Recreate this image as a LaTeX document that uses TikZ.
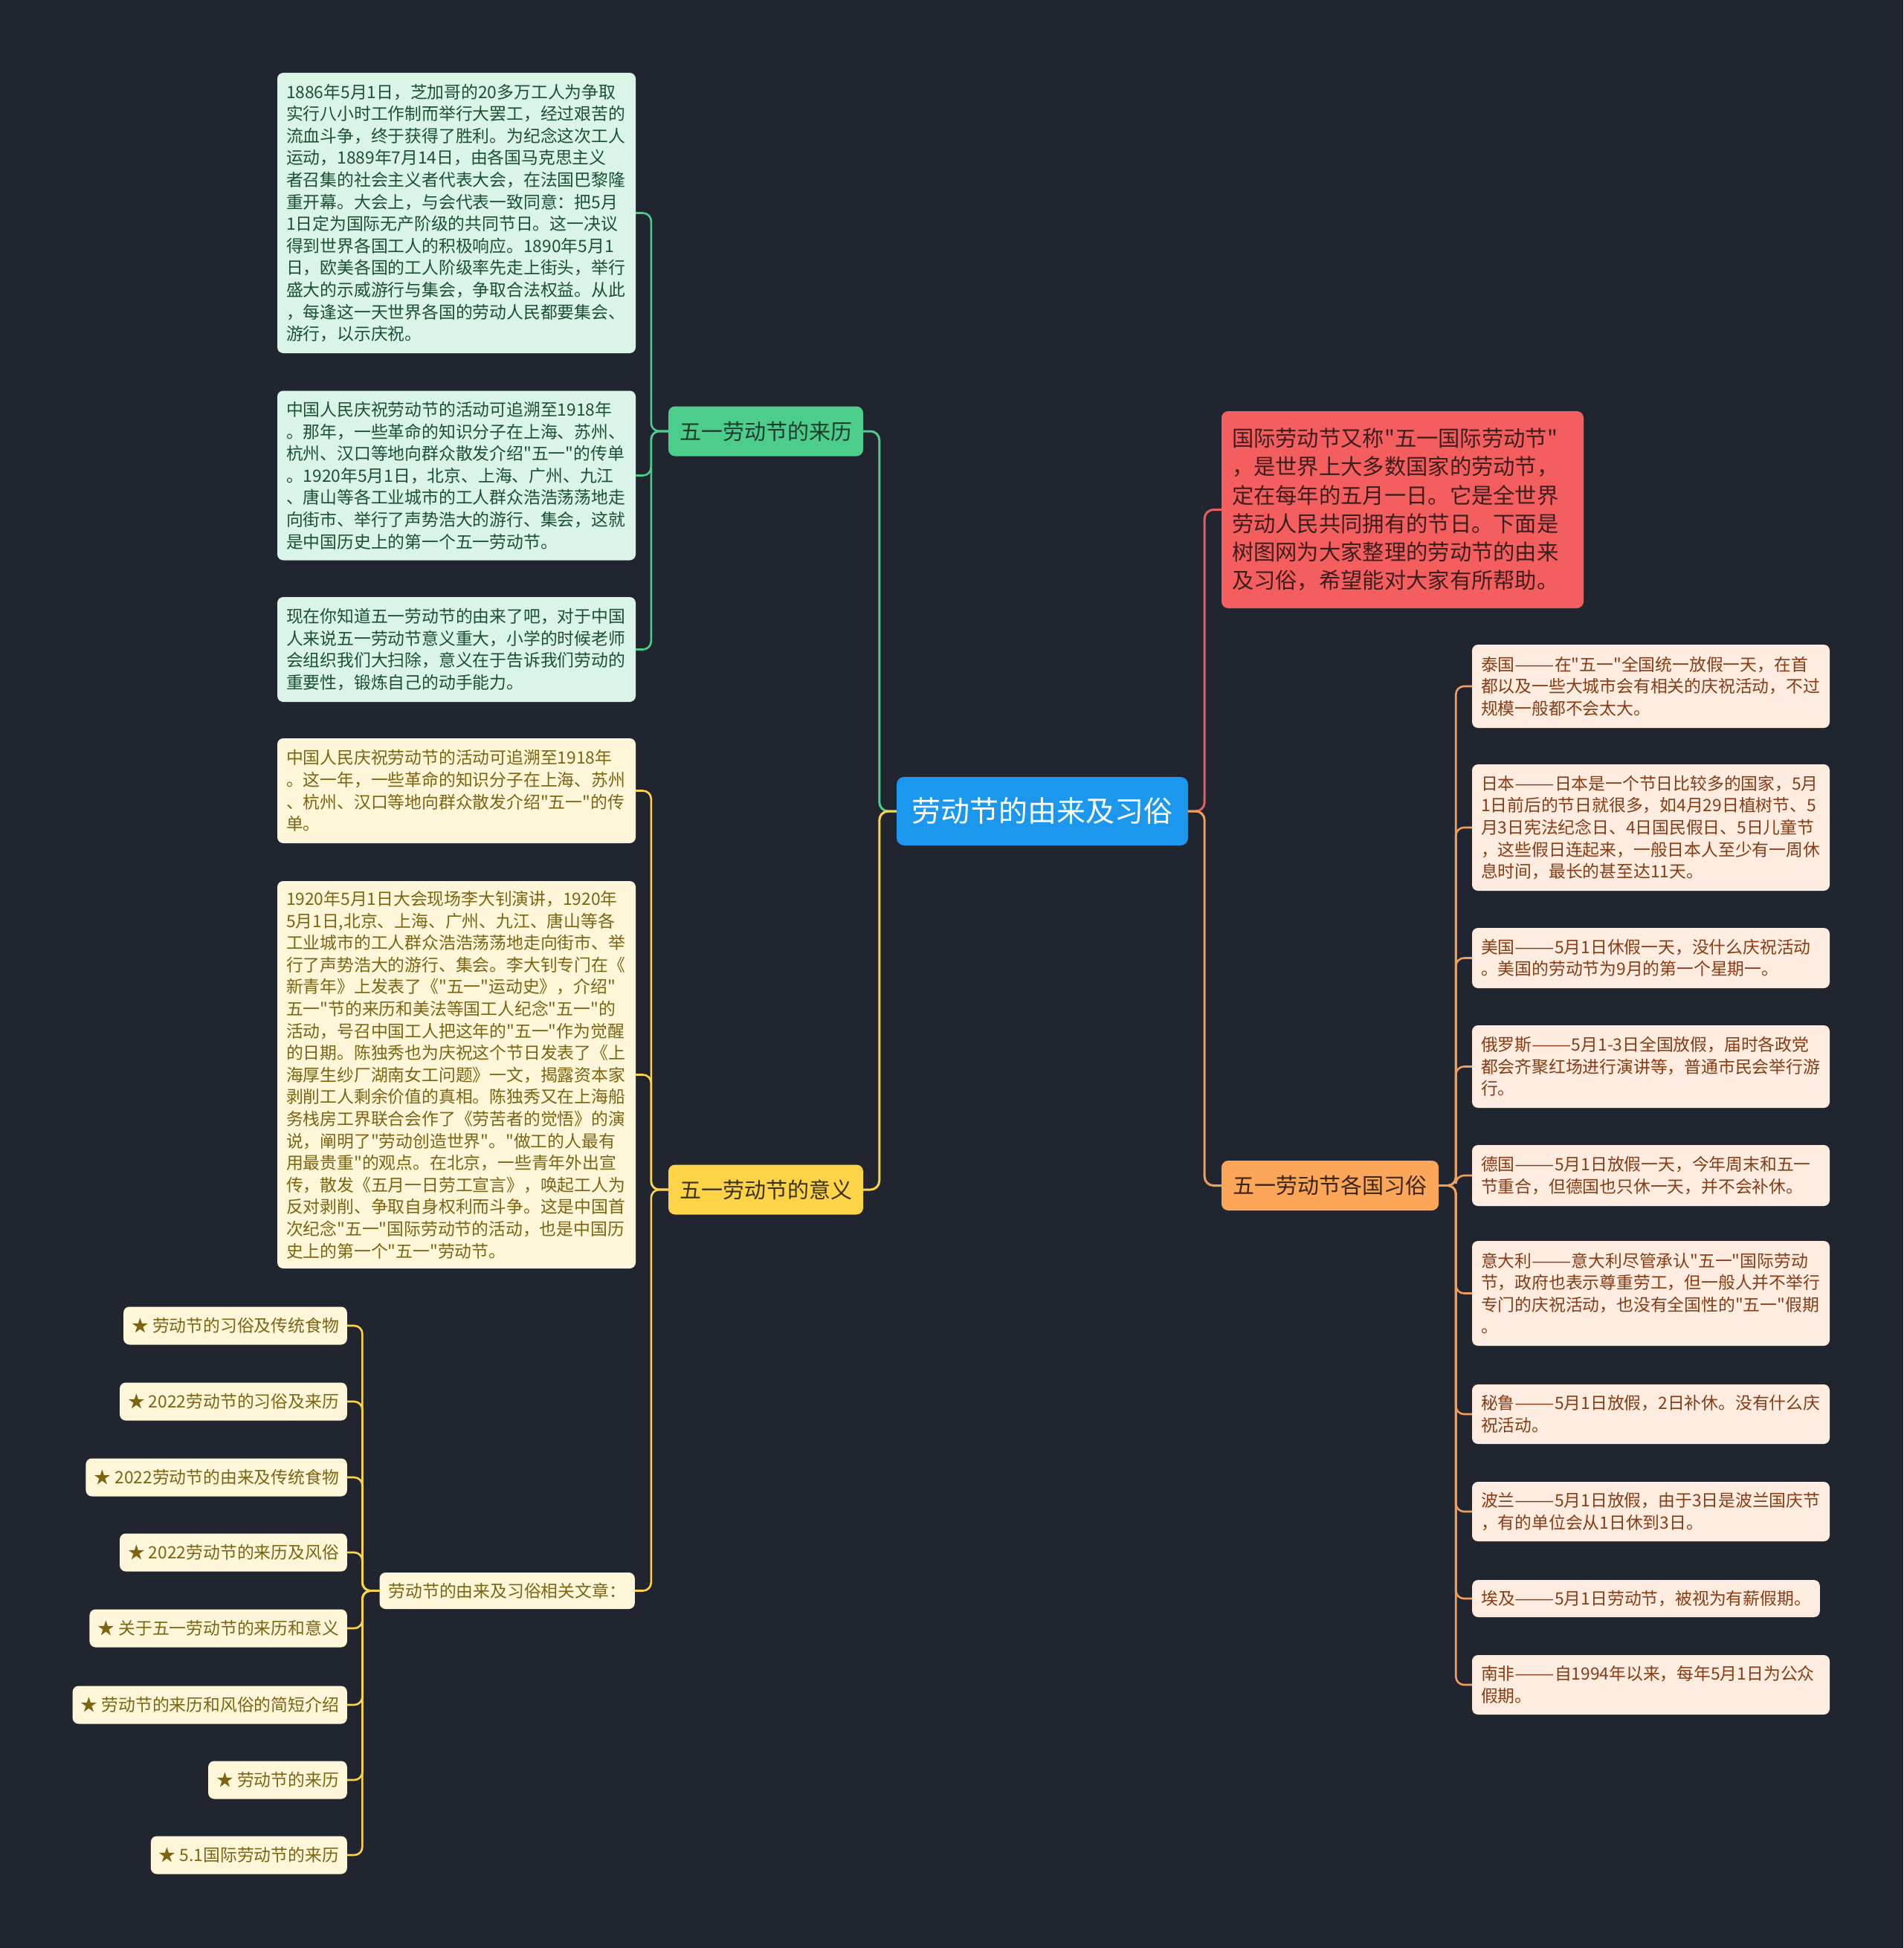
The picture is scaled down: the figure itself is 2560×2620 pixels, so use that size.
\documentclass[tikz,border=0pt]{standalone}
\usepackage{graphicx}
\usepackage{fontspec}
\setmainfont{Noto Sans CJK SC}[Ligatures=TeXOff]
\newcommand{\dd}{\scalebox{1.4}[1]{——}}
\definecolor{bg}{RGB}{33,37,48}
\definecolor{cblue}{RGB}{27,152,238}
\definecolor{cgreen}{RGB}{76,205,140}
\definecolor{cyellow}{RGB}{253,211,72}
\definecolor{cred}{RGB}{245,94,94}
\definecolor{corange}{RGB}{251,166,89}
\definecolor{lgreen}{RGB}{218,245,231}
\definecolor{lyellow}{RGB}{253,246,216}
\definecolor{lorange}{RGB}{253,236,223}
\definecolor{tgreen}{RGB}{28,80,52}
\definecolor{tyellow}{RGB}{125,100,18}
\definecolor{torange}{RGB}{135,60,20}
\definecolor{lred}{RGB}{226,96,96}
\definecolor{lor}{RGB}{240,158,92}
\begin{document}
\begin{tikzpicture}[x=1pt,y=-1pt,
  rootbox/.style={fill=cblue,rounded corners=10pt,text=white,minimum width=392pt,minimum height=92pt,inner sep=0pt,font=\fontsize{39pt}{46pt}\selectfont},
  branchbox/.style={rounded corners=9pt,minimum height=67pt,inner sep=0pt,font=\fontsize{29pt}{36pt}\selectfont},
  leafbox/.style={rounded corners=8pt,inner xsep=12pt,inner ysep=0pt,align=left,font=\fontsize{22.8pt}{29.6pt}\selectfont},
  gleaf/.style={leafbox,fill=lgreen,text=tgreen,text width=458pt},
  yleaf/.style={leafbox,fill=lyellow,text=tyellow,text width=458pt},
  oleaf/.style={leafbox,fill=lorange,text=torange,text width=457pt},
  star/.style={leafbox,fill=lyellow,text=tyellow,minimum height=51pt,inner xsep=11pt,anchor=east},
  conn/.style={line width=3pt,rounded corners=12pt},
  lconn/.style={line width=2.6pt,rounded corners=11pt}
]
\fill[bg] (0,0) rectangle (2560,2620);
\useasboundingbox (0,0) rectangle (2560,2620);

% root
\node[rootbox] (root) at (1402,1091) {劳动节的由来及习俗};

% branches
\node[branchbox,fill=cgreen,text={rgb,255:red,30;green,60;blue,44},minimum width=262pt] (g) at (1030,580) {五一劳动节的来历};
\node[branchbox,fill=cyellow,text={rgb,255:red,58;green,50;blue,16},minimum width=262pt] (y) at (1030,1600) {五一劳动节的意义};
\node[branchbox,fill=corange,text={rgb,255:red,60;green,38;blue,18},minimum width=292pt] (o) at (1789,1594.5) {五一劳动节各国习俗};
\node[rounded corners=9pt,fill=cred,text={rgb,255:red,60;green,30;blue,30},inner xsep=14pt,inner ysep=0pt,minimum height=265pt,text width=459pt,align=left,font=\fontsize{29.3pt}{38.3pt}\selectfont] (r) at (1886.5,685.5) {国际劳动节又称"五一国际劳动节"\\，是世界上大多数国家的劳动节，\\定在每年的五月一日。它是全世界\\劳动人民共同拥有的节日。下面是\\树图网为大家整理的劳动节的由来\\及习俗，希望能对大家有所帮助。};

% green leaves
\node[gleaf,minimum height=377pt] (g1) at (614,286.5) {1886年5月1日，芝加哥的20多万工人为争取\\实行八小时工作制而举行大罢工，经过艰苦的\\流血斗争，终于获得了胜利。为纪念这次工人\\运动，1889年7月14日，由各国马克思主义\\者召集的社会主义者代表大会，在法国巴黎隆\\重开幕。大会上，与会代表一致同意：把5月\\1日定为国际无产阶级的共同节日。这一决议\\得到世界各国工人的积极响应。1890年5月1\\日，欧美各国的工人阶级率先走上街头，举行\\盛大的示威游行与集会，争取合法权益。从此\\，每逢这一天世界各国的劳动人民都要集会、\\游行，以示庆祝。};
\node[gleaf,minimum height=228pt] (g2) at (614,639.5) {中国人民庆祝劳动节的活动可追溯至1918年\\。那年，一些革命的知识分子在上海、苏州、\\杭州、汉口等地向群众散发介绍"五一"的传单\\。1920年5月1日，北京、上海、广州、九江\\、唐山等各工业城市的工人群众浩浩荡荡地走\\向街市、举行了声势浩大的游行、集会，这就\\是中国历史上的第一个五一劳动节。};
\node[gleaf,minimum height=141pt] (g3) at (614,873.5) {现在你知道五一劳动节的由来了吧，对于中国\\人来说五一劳动节意义重大，小学的时候老师\\会组织我们大扫除，意义在于告诉我们劳动的\\重要性，锻炼自己的动手能力。};

% yellow leaves
\node[yleaf,minimum height=141pt] (y1) at (614,1063.5) {中国人民庆祝劳动节的活动可追溯至1918年\\。这一年，一些革命的知识分子在上海、苏州\\、杭州、汉口等地向群众散发介绍"五一"的传\\单。};
\node[yleaf,minimum height=521pt] (y2) at (614,1445.5) {1920年5月1日大会现场李大钊演讲，1920年\\5月1日,北京、上海、广州、九江、唐山等各\\工业城市的工人群众浩浩荡荡地走向街市、举\\行了声势浩大的游行、集会。李大钊专门在《\\新青年》上发表了《"五一"运动史》，介绍"\\五一"节的来历和美法等国工人纪念"五一"的\\活动，号召中国工人把这年的"五一"作为觉醒\\的日期。陈独秀也为庆祝这个节日发表了《上\\海厚生纱厂湖南女工问题》一文，揭露资本家\\剥削工人剩余价值的真相。陈独秀又在上海船\\务栈房工界联合会作了《劳苦者的觉悟》的演\\说，阐明了"劳动创造世界"。"做工的人最有\\用最贵重"的观点。在北京，一些青年外出宣\\传，散发《五月一日劳工宣言》，唤起工人为\\反对剥削、争取自身权利而斗争。这是中国首\\次纪念"五一"国际劳动节的活动，也是中国历\\史上的第一个"五一"劳动节。};
\node[leafbox,fill=lyellow,text=tyellow,minimum height=49pt,anchor=east] (ys) at (854,2139.5) {劳动节的由来及习俗相关文章：};

% star items
\node[star] (s1) at (467,1783) {★ 劳动节的习俗及传统食物};
\node[star] (s2) at (467,1885) {★ 2022劳动节的习俗及来历};
\node[star] (s3) at (467,1987) {★ 2022劳动节的由来及传统食物};
\node[star] (s4) at (467,2088) {★ 2022劳动节的来历及风俗};
\node[star] (s5) at (467,2190) {★ 关于五一劳动节的来历和意义};
\node[star] (s6) at (467,2293) {★ 劳动节的来历和风俗的简短介绍};
\node[star] (s7) at (467,2394) {★ 劳动节的来历};
\node[star] (s8) at (467,2495) {★ 5.1国际劳动节的来历};

% orange leaves
\node[oleaf,minimum height=112pt] (o1) at (2220.5,923) {泰国\dd 在"五一"全国统一放假一天，在首\\都以及一些大城市会有相关的庆祝活动，不过\\规模一般都不会太大。};
\node[oleaf,minimum height=170pt] (o2) at (2220.5,1113) {日本\dd 日本是一个节日比较多的国家，5月\\1日前后的节日就很多，如4月29日植树节、5\\月3日宪法纪念日、4日国民假日、5日儿童节\\，这些假日连起来，一般日本人至少有一周休\\息时间，最长的甚至达11天。};
\node[oleaf,minimum height=81pt] (o3) at (2220.5,1288.5) {美国\dd 5月1日休假一天，没什么庆祝活动\\。美国的劳动节为9月的第一个星期一。};
\node[oleaf,minimum height=111pt] (o4) at (2220.5,1434.5) {俄罗斯\dd 5月1-3日全国放假，届时各政党\\都会齐聚红场进行演讲等，普通市民会举行游\\行。};
\node[oleaf,minimum height=82pt] (o5) at (2220.5,1581) {德国\dd 5月1日放假一天，今年周末和五一\\节重合，但德国也只休一天，并不会补休。};
\node[oleaf,minimum height=141pt] (o6) at (2220.5,1739.5) {意大利\dd 意大利尽管承认"五一"国际劳动\\节，政府也表示尊重劳工，但一般人并不举行\\专门的庆祝活动，也没有全国性的"五一"假期\\。};
\node[oleaf,minimum height=80pt] (o7) at (2220.5,1902) {秘鲁\dd 5月1日放假，2日补休。没有什么庆\\祝活动。};
\node[oleaf,minimum height=80pt] (o8) at (2220.5,2033) {波兰\dd 5月1日放假，由于3日是波兰国庆节\\，有的单位会从1日休到3日。};
\node[leafbox,fill=lorange,text=torange,minimum height=50pt,anchor=west] (o9) at (1980,2150) {埃及\dd 5月1日劳动节，被视为有薪假期。};
\node[oleaf,minimum height=80pt] (o10) at (2220.5,2266) {南非\dd 自1994年以来，每年5月1日为公众\\假期。};

% connectors from root
\draw[conn,draw=cgreen] (root.west) -- ++(-23,0) |- (g.east);
\draw[conn,draw=cyellow] (root.west) -- ++(-23,0) |- (y.east);
\draw[conn,draw=lred] (root.east) -- ++(22,0) |- (r.west);
\draw[conn,draw=lor] (root.east) -- ++(22,0) |- (o.west);

% green
\foreach \n in {g1,g2,g3} \draw[lconn,draw=cgreen] (g.west) -- ++(-23,0) |- (\n.east);
% yellow
\foreach \n in {y1,y2,ys} \draw[lconn,draw=cyellow] (y.west) -- ++(-23,0) |- (\n.east);
\foreach \n in {s1,s2,s3,s4,s5,s6,s7,s8} \draw[lconn,draw=cyellow] (ys.west) -- ++(-23,0) |- (\n.east);
% orange
\foreach \n in {o1,o2,o3,o4,o5,o6,o7,o8,o9,o10} \draw[lconn,draw=lor] (o.east) -- ++(23,0) |- (\n.west);
\end{tikzpicture}
\end{document}
